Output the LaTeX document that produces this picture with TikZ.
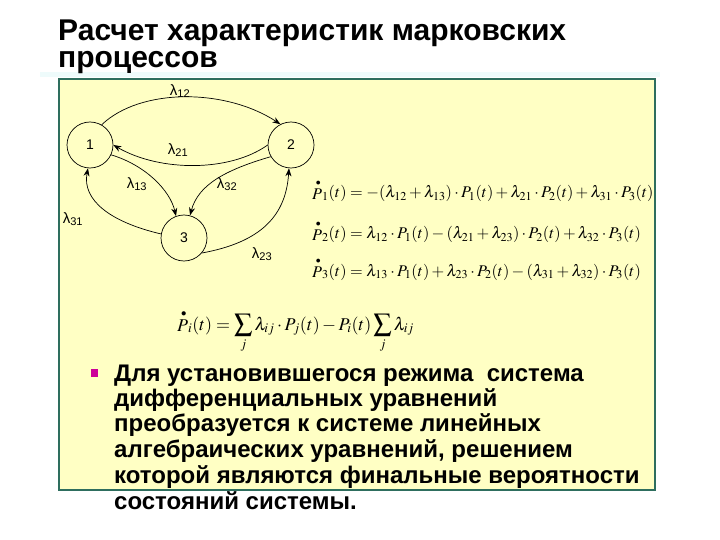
\documentclass[tikz,border=0pt]{standalone}
\usepackage{mathptmx}
\usepackage{fontspec}
\setmainfont{Liberation Serif}
\setsansfont{Liberation Sans}
\usetikzlibrary{arrows.meta}
\definecolor{boxfill}{HTML}{FFFFC4}
\definecolor{boxline}{HTML}{2E6E5E}
\definecolor{bulletc}{HTML}{CC0099}
\definecolor{paleband}{HTML}{EEFBFB}
\newcommand{\Pdot}[1]{{\stackrel{\scriptscriptstyle\bullet}{P}}_{#1}}
\newcommand{\lab}[1]{λ\textsubscript{#1}}
\begin{document}
\begin{tikzpicture}[x=1pt,y=-1pt,
  state/.style={circle,draw,line width=0.7pt,minimum size=46pt,inner sep=0pt,font=\sffamily\fontsize{14}{16}\selectfont},
  edge/.style={line width=0.7pt,-{Stealth[length=8pt,width=6pt]}},
  lbl/.style={font=\sffamily\fontsize{15}{17}\selectfont,inner sep=0pt},
  eqn/.style={anchor=base west,inner sep=0pt,font=\fontsize{16.3}{19}\selectfont},
  body/.style={anchor=base west,inner sep=0pt,font=\sffamily\bfseries\fontsize{24}{28}\selectfont},
  ttl/.style={anchor=base west,inner sep=0pt,font=\sffamily\bfseries\fontsize{30}{34}\selectfont}]
\useasboundingbox (0,0) rectangle (720,540);
\fill[white] (0,0) rectangle (720,540);
\fill[paleband] (40,72) rectangle (660,77);
\filldraw[fill=boxfill,draw=boxline,line width=1.2pt] (59,79) rectangle (655,490);
% title
\node[ttl] (t1) at (58,41) {Расчет характеристик марковских};
\node[ttl] (t2) at (58,68) {процессов};
% states
\node[state] (n1) at (90,145) {1};
\node[state] (n2) at (291,145) {2};
\node[state] (n3) at (184,238) {3};
% edges
\draw[edge] (n1.60) .. controls (140,88) and (225,88) .. (n2.117);
\draw[edge] (n2.180) .. controls (230,172) and (160,172) .. (n1.0);
\draw[edge] (n1.-25) .. controls (145,165) and (170,190) .. (n3.110);
\draw[edge] (n2.-150) .. controls (225,170) and (198,185) .. (n3.75);
\draw[edge] (n3.170) .. controls (110,222) and (82,200) .. (n1.-95);
\draw[edge] (n3.-40) .. controls (262,242) and (286,215) .. (n2.-95);
% labels
\node[lbl] (l12) at (180,91) {\lab{12}};
\node[lbl] (l21) at (178,150) {\lab{21}};
\node[lbl] (l13) at (137,184) {\lab{13}};
\node[lbl] (l32) at (227,184) {\lab{32}};
\node[lbl] (l31) at (73,219) {\lab{31}};
\node[lbl] (l23) at (262,254) {\lab{23}};
% equations
\node[eqn] (e1) at (312,198) {$\Pdot{1}(t)=-(\lambda_{12}+\lambda_{13})\cdot P_1(t)+\lambda_{21}\cdot P_2(t)+\lambda_{31}\cdot P_3(t)$};
\node[eqn] (e2) at (312,239) {$\Pdot{2}(t)=\lambda_{12}\cdot P_1(t)-(\lambda_{21}+\lambda_{23})\cdot P_2(t)+\lambda_{32}\cdot P_3(t)$};
\node[eqn] (e3) at (312,276) {$\Pdot{3}(t)=\lambda_{13}\cdot P_1(t)+\lambda_{23}\cdot P_2(t)-(\lambda_{31}+\lambda_{32})\cdot P_3(t)$};
\node[eqn,font=\fontsize{18}{20}\selectfont] (e4) at (177,330) {$\displaystyle\Pdot{i}(t)=\sum_j\lambda_{ij}\cdot P_j(t)-P_i(t)\sum_j\lambda_{ij}$};
% bullet text
\fill[bulletc] (91,369) rectangle (98,377);
\node[body] (b1) at (114,381) {Для установившегося режима\ \ система};
\node[body] (b2) at (114,406) {дифференциальных уравнений};
\node[body] (b3) at (114,431) {преобразуется к системе линейных};
\node[body] (b4) at (114,457) {алгебраических уравнений, решением};
\node[body] (b5) at (114,483) {которой являются финальные вероятности};
\node[body] (b6) at (114,509) {состояний системы.};
\end{tikzpicture}
\end{document}
